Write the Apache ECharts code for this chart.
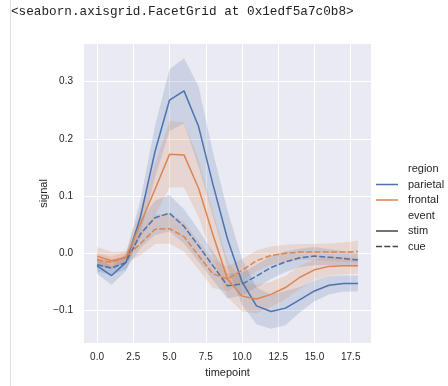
<!DOCTYPE html>
<html><head><meta charset="utf-8">
<script src="https://cdn.jsdelivr.net/npm/echarts@6/dist/echarts.min.js"></script>
<style>html,body{margin:0;padding:0;background:#fff}#c{width:448px;height:386px}</style>
</head><body><div id="c"></div>
<script>
const timepoints = [0,1,2,3,4,5,6,7,8,9,10,11,12,13,14,15,16,17,18];
const xTicks = [0,2.5,5,7.5,10,12.5,15,17.5];
const yTicks = [-0.1,0,0.1,0.2,0.3];

const parietalStim = [-0.022,-0.039,-0.016,0.064,0.178,0.268,0.284,0.222,0.120,0.025,-0.050,-0.092,-0.102,-0.096,-0.081,-0.066,-0.056,-0.053,-0.053];
const parietalStimLo = [-0.036,-0.055,-0.031,0.034,0.133,0.214,0.227,0.152,0.065,-0.025,-0.090,-0.124,-0.132,-0.126,-0.103,-0.084,-0.072,-0.067,-0.067];
const parietalStimHi = [-0.008,-0.023,-0.001,0.094,0.223,0.322,0.341,0.292,0.176,0.075,-0.010,-0.060,-0.072,-0.066,-0.059,-0.048,-0.040,-0.039,-0.039];

const frontalStim = [-0.005,-0.013,-0.007,0.052,0.112,0.173,0.172,0.114,0.032,-0.045,-0.075,-0.080,-0.072,-0.060,-0.042,-0.029,-0.023,-0.022,-0.022];
const frontalStimLo = [-0.021,-0.028,-0.017,0.027,0.067,0.115,0.115,0.064,-0.008,-0.077,-0.102,-0.105,-0.094,-0.080,-0.062,-0.047,-0.039,-0.037,-0.036];
const frontalStimHi = [0.011,0.002,0.003,0.077,0.157,0.231,0.229,0.164,0.072,-0.013,-0.048,-0.055,-0.050,-0.040,-0.022,-0.011,-0.007,-0.007,-0.008];

const parietalCue = [-0.020,-0.026,-0.016,0.034,0.062,0.070,0.047,0.013,-0.022,-0.057,-0.054,-0.040,-0.025,-0.015,-0.008,-0.005,-0.007,-0.009,-0.012];
const parietalCueLo = [-0.032,-0.038,-0.028,0.009,0.032,0.038,0.017,-0.015,-0.047,-0.079,-0.074,-0.060,-0.045,-0.033,-0.024,-0.021,-0.021,-0.022,-0.024];
const parietalCueHi = [-0.008,-0.014,-0.004,0.059,0.092,0.102,0.077,0.041,0.003,-0.035,-0.034,-0.020,-0.005,0.003,0.008,0.011,0.007,0.004,0.000];

const frontalCue = [-0.012,-0.016,-0.007,0.017,0.042,0.043,0.029,-0.004,-0.036,-0.045,-0.030,-0.013,-0.004,0.000,0.002,0.002,0.002,0.002,0.003];
const frontalCueLo = [-0.024,-0.026,-0.017,-0.003,0.016,0.017,0.003,-0.029,-0.061,-0.067,-0.050,-0.031,-0.020,-0.015,-0.012,-0.012,-0.013,-0.015,-0.016];
const frontalCueHi = [0.000,-0.006,0.003,0.037,0.068,0.069,0.055,0.021,-0.011,-0.023,-0.010,0.005,0.012,0.015,0.016,0.016,0.017,0.019,0.022];

const BLUE = '#4C72B0', ORANGE = '#DD8452', TXT = '#262626';
const FONT = '"Liberation Sans", Arial, sans-serif';

function band(lo, hi, color) {
  const data = timepoints.map((t,i)=>[t, lo[i], hi[i]]);
  return {
    type:'custom', data:data, silent:true, z:1, animation:false, clip:true,
    encode:{x:0, y:[1,2]},
    renderItem:function(params, api){
      if (params.dataIndex !== 0) return null;
      const top = data.map(d=>api.coord([d[0], d[2]]));
      const bot = data.slice().reverse().map(d=>api.coord([d[0], d[1]]));
      return {type:'polygon', shape:{points: top.concat(bot)},
        style:{fill:color, opacity:0.2, stroke:null}};
    }
  };
}
function line(vals, color, dashed) {
  return {type:'line', data: timepoints.map((t,i)=>[t, vals[i]]), symbol:'none', silent:true, z:3, animation:false,
    lineStyle:{color:color, width:1.5, type: dashed ? [6, 2.3] : 'solid'}};
}
function fmt(v){ return (v<0?'\u2212':'') + Math.abs(v).toFixed(1); }

const chart = echarts.init(document.getElementById('c'));
const lx1 = 376, lx2 = 398, tx = 408;
chart.setOption({
  animation:false,
  backgroundColor:'#fff',
  grid:{left:84, top:44, width:287, height:299, show:true, backgroundColor:'#EAEAF2', borderWidth:0, containLabel:false},
  xAxis:{type:'value', min:-0.9, max:18.9,
    name:'timepoint', nameLocation:'middle', nameGap:24, nameMoveOverlap:false,
    nameTextStyle:{color:TXT, fontSize:11, fontFamily:FONT},
    axisLine:{show:false}, axisTick:{show:false, customValues:xTicks},
    axisLabel:{customValues:xTicks, formatter:fmt, color:TXT, fontSize:10, fontFamily:FONT, margin:9},
    splitLine:{show:true, lineStyle:{color:'#fff', width:1}}},
  yAxis:{type:'value', min:-0.157, max:0.366,
    name:'signal', nameLocation:'middle', nameGap:35, nameRotate:90, nameMoveOverlap:false,
    nameTextStyle:{color:TXT, fontSize:11, fontFamily:FONT},
    axisLine:{show:false}, axisTick:{show:false, customValues:yTicks},
    axisLabel:{customValues:yTicks, formatter:fmt, color:TXT, fontSize:10, fontFamily:FONT, margin:11},
    splitLine:{show:true, lineStyle:{color:'#fff', width:1}}},
  series:[
    band(parietalStimLo, parietalStimHi, BLUE),
    band(parietalCueLo, parietalCueHi, BLUE),
    band(frontalStimLo, frontalStimHi, ORANGE),
    band(frontalCueLo, frontalCueHi, ORANGE),
    line(parietalStim, BLUE, false),
    line(parietalCue, BLUE, true),
    line(frontalStim, ORANGE, false),
    line(frontalCue, ORANGE, true)
  ],
  graphic:[
    {type:'line', shape:{x1:10.5, y1:0, x2:10.5, y2:386}, style:{stroke:'#e0e0e0', lineWidth:1}, silent:true},
    {type:'text', x:11, y:12, style:{text:'<seaborn.axisgrid.FacetGrid at 0x1edf5a7c0b8>', fill:'#222',
      font:'12.7px "Liberation Mono", "DejaVu Sans Mono", monospace', textVerticalAlign:'middle'}},
    {type:'text', x:tx, y:169, style:{text:'region', fill:TXT, font:'11px '+FONT, textVerticalAlign:'middle'}},
    {type:'line', shape:{x1:lx1, y1:184.5, x2:lx2, y2:184.5}, style:{stroke:BLUE, lineWidth:1.5}},
    {type:'text', x:tx, y:184.5, style:{text:'parietal', fill:TXT, font:'11px '+FONT, textVerticalAlign:'middle'}},
    {type:'line', shape:{x1:lx1, y1:200, x2:lx2, y2:200}, style:{stroke:ORANGE, lineWidth:1.5}},
    {type:'text', x:tx, y:200, style:{text:'frontal', fill:TXT, font:'11px '+FONT, textVerticalAlign:'middle'}},
    {type:'text', x:tx, y:215.5, style:{text:'event', fill:TXT, font:'11px '+FONT, textVerticalAlign:'middle'}},
    {type:'line', shape:{x1:lx1, y1:231, x2:lx2, y2:231}, style:{stroke:'#444', lineWidth:1.5}},
    {type:'text', x:tx, y:231, style:{text:'stim', fill:TXT, font:'11px '+FONT, textVerticalAlign:'middle'}},
    {type:'line', shape:{x1:lx1, y1:246.5, x2:lx2, y2:246.5}, style:{stroke:'#444', lineWidth:1.5, lineDash:[6,2.3]}},
    {type:'text', x:tx, y:246.5, style:{text:'cue', fill:TXT, font:'11px '+FONT, textVerticalAlign:'middle'}}
  ]
});
</script>
</body></html>
